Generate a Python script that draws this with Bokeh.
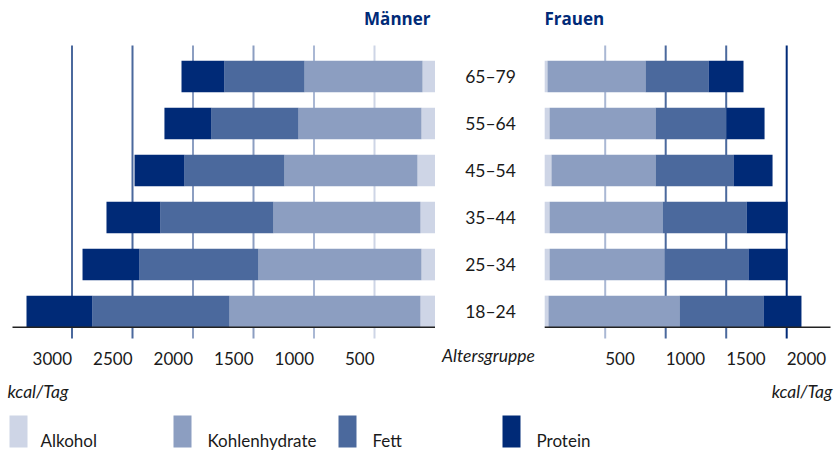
from bokeh.plotting import figure
from bokeh.models import Range1d, ColumnDataSource
from bokeh.core.properties import value
from bokeh.embed import file_html
from bokeh.resources import INLINE

# ---------------- data ----------------
age_groups = ["18–24", "25–34", "35–44", "45–54", "55–64", "65–79"]
components = ["Alkohol", "Kohlenhydrate", "Fett", "Protein"]
colors = ["#ced5e6", "#8c9ec1", "#4b699d", "#002a77"]

men_alkohol = [120, 112, 120, 145, 112, 103]
men_kohlenhydrate = [1578, 1347, 1215, 1099, 1016, 975]
men_fett = [1133, 983, 934, 826, 719, 662]
men_protein = [545, 471, 446, 413, 389, 355]

women_alkohol = [31, 40, 40, 56, 40, 23]
women_kohlenhydrate = [1083, 950, 934, 860, 876, 810]
women_fett = [694, 694, 694, 644, 586, 521]
women_protein = [314, 323, 339, 323, 315, 289]

men_ticks = [3000, 2500, 2000, 1500, 1000, 500]
men_tick_labels = ["3000", "2500", "2000", "1500", "1000", "500"]
men_grid_colors = ["#4b699d", "#4b699d", "#8c9ec1", "#8c9ec1", "#aab8d4", "#ced5e6"]
women_ticks = [500, 1000, 1500, 2000]
women_tick_labels = ["500", "1000", "1500", "2000"]
women_grid_colors = ["#aab8d4", "#4b699d", "#4b699d", "#002a77"]

# ---------------- layout (picture pixels) ----------------
W, H = 835, 452
LEFT, TOP = 0, 0
RIGHT, BOTTOM = LEFT + W, TOP + H
PX_PER_KCAL = 0.121
MEN_ZERO = 434.5
WOMEN_ZERO = 544.2
ROW0 = 311.0
ROW_STEP = 47.0
BAR_H = 31.7 / ROW_STEP


def ry(py):
    return (ROW0 - py) / ROW_STEP


p = figure(width=W, height=H, output_backend="svg", toolbar_location=None,
           x_range=Range1d(LEFT, RIGHT), y_range=Range1d(BOTTOM, TOP),
           x_axis_location=None, y_axis_location=None,
           min_border=0, min_border_left=0, min_border_right=0,
           min_border_top=0, min_border_bottom=0)
p.outline_line_color = None
p.grid.visible = False
p.background_fill_color = "white"
p.border_fill_color = "white"

p.extra_x_ranges = {
    "men": Range1d((MEN_ZERO - LEFT) / PX_PER_KCAL, (MEN_ZERO - RIGHT) / PX_PER_KCAL),
    "women": Range1d((LEFT - WOMEN_ZERO) / PX_PER_KCAL, (RIGHT - WOMEN_ZERO) / PX_PER_KCAL),
}
p.extra_y_ranges = {"rows": Range1d(ry(BOTTOM), ry(TOP))}

rows = list(range(len(age_groups)))

# ---------------- gridlines ----------------
p.segment(x0=men_ticks, x1=men_ticks, y0=[ry(338)] * len(men_ticks), y1=[ry(45)] * len(men_ticks),
          line_color=men_grid_colors, line_width=2, x_range_name="men", y_range_name="rows")
p.segment(x0=women_ticks, x1=women_ticks, y0=[ry(338)] * len(women_ticks), y1=[ry(45)] * len(women_ticks),
          line_color=women_grid_colors, line_width=2, x_range_name="women", y_range_name="rows")

# ---------------- bars ----------------
men_src = ColumnDataSource(dict(y=rows, Alkohol=men_alkohol, Kohlenhydrate=men_kohlenhydrate,
                                Fett=men_fett, Protein=men_protein))
women_src = ColumnDataSource(dict(y=rows, Alkohol=women_alkohol, Kohlenhydrate=women_kohlenhydrate,
                                  Fett=women_fett, Protein=women_protein))
p.hbar_stack(components, y="y", height=BAR_H, color=colors, line_color=None, source=men_src,
             x_range_name="men", y_range_name="rows")
p.hbar_stack(components, y="y", height=BAR_H, color=colors, line_color=None, source=women_src,
             x_range_name="women", y_range_name="rows")

# ---------------- axis lines ----------------
p.segment(x0=[(MEN_ZERO - 12) / PX_PER_KCAL], x1=[0], y0=[-BAR_H / 2], y1=[-BAR_H / 2],
          line_color="#222222", line_width=1.5, x_range_name="men", y_range_name="rows")
p.segment(x0=[0], x1=[(830 - WOMEN_ZERO) / PX_PER_KCAL], y0=[-BAR_H / 2], y1=[-BAR_H / 2],
          line_color="#222222", line_width=1.5, x_range_name="women", y_range_name="rows")

FONT = value("Lato")
TXT = "#1a1a1a"

# tick labels
p.text(x=men_ticks, y=[ry(358)] * len(men_ticks), text=men_tick_labels, text_align="right",
       text_baseline="middle", text_font=FONT, text_font_size="17px", text_color=TXT,
       x_range_name="men", y_range_name="rows")
p.text(x=women_ticks, y=[ry(358)] * len(women_ticks), text=women_tick_labels, text_align="left",
       text_baseline="middle", text_font=FONT, text_font_size="17px", text_color=TXT,
       x_range_name="women", y_range_name="rows")

# age group labels
p.text(x=[490] * len(rows), y=rows, text=age_groups, text_align="center", text_baseline="middle",
       text_font=FONT, text_font_size="17.5px", text_color=TXT, y_range_name="rows")

# titles
p.text(x=[430], y=[18], text=["Männer"], text_align="right", text_baseline="middle",
       text_font=value("Open Sans"), text_font_style="bold", text_font_size="17px", text_color="#002a77")
p.text(x=[544], y=[18], text=["Frauen"], text_align="left", text_baseline="middle",
       text_font=value("Open Sans"), text_font_style="bold", text_font_size="17px", text_color="#002a77")

# axis titles
p.text(x=[488], y=[355], text=["Altersgruppe"], text_align="center", text_baseline="middle",
       text_font=FONT, text_font_style="italic", text_font_size="17.5px", text_color=TXT)
p.text(x=[7], y=[391], text=["kcal/Tag"], text_align="left", text_baseline="middle",
       text_font=FONT, text_font_style="italic", text_font_size="17.5px", text_color=TXT)
p.text(x=[832], y=[391], text=["kcal/Tag"], text_align="right", text_baseline="middle",
       text_font=FONT, text_font_style="italic", text_font_size="17.5px", text_color=TXT)

# legend
leg_box_x = [9, 173, 338, 502]
leg_text_x = [40, 207, 372, 536]
p.quad(left=leg_box_x, right=[x + 18 for x in leg_box_x], top=[415] * 4, bottom=[447] * 4,
       color=colors, line_color=None)
p.text(x=leg_text_x, y=[440] * 4, text=components, text_align="left", text_baseline="middle",
       text_font=FONT, text_font_size="17px", text_color=TXT)

open("out.html", "w").write(file_html(p, INLINE))
